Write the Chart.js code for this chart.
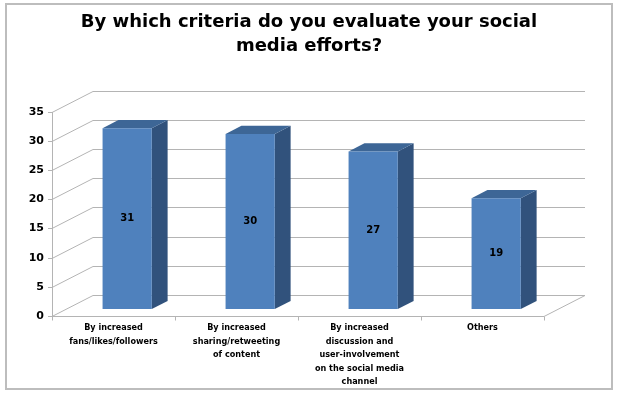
<!DOCTYPE html>
<html>
<head>
<meta charset="utf-8">
<script src="https://cdn.jsdelivr.net/npm/chart.js@4"></script>
<style>
  html, body { margin: 0; padding: 0; background: #fff; }
  #wrap { position: relative; width: 618px; height: 393px; }
</style>
</head>
<body>
<div id="wrap"><canvas id="chart" width="618" height="393"></canvas></div>
<script>
const categories = [
  ["By increased", "fans/likes/followers"],
  ["By increased", "sharing/retweeting", "of content"],
  ["By increased", "discussion and", "user-involvement", "on the social media", "channel"],
  ["Others"],
];
const responses = [31, 30, 27, 19];
const yTicks = [0, 5, 10, 15, 20, 25, 30, 35];
const titleLines = ["By which criteria do you evaluate your social", "media efforts?"];

// depth of the 3D box (back wall offset) and of the bars
const WALL_DX = 41, WALL_DY = -21;
const BAR_FRONT = 1 / 3, BAR_BACK = 0.72;

const GRID = "#b4b4b4";

const box3d = {
  id: "box3d",
  beforeDraw(chart) {
    const { ctx, chartArea: a } = chart;
    const y = chart.scales.y;
    ctx.save();
    // outer border
    ctx.strokeStyle = "#bdbdbd";
    ctx.lineWidth = 2;
    ctx.strokeRect(6, 4, 606, 385);
    // back wall gridlines + left wall diagonals
    ctx.lineWidth = 1;
    ctx.strokeStyle = GRID;
    yTicks.forEach((v) => {
      const py = Math.round(y.getPixelForValue(v)) + 0.5;
      ctx.beginPath();
      ctx.moveTo(a.left, py);
      ctx.lineTo(a.left + WALL_DX, py + WALL_DY);
      ctx.lineTo(a.right + WALL_DX, py + WALL_DY);
      ctx.stroke();
      ctx.beginPath();
      ctx.moveTo(a.left - 4, py);
      ctx.lineTo(a.left, py);
      ctx.stroke();
    });
    // left axis
    const top = Math.round(y.getPixelForValue(35));
    ctx.beginPath();
    ctx.moveTo(a.left + 0.5, top);
    ctx.lineTo(a.left + 0.5, a.bottom);
    ctx.stroke();
    // floor front + right edge
    const fy = a.bottom + 0.5;
    ctx.beginPath();
    ctx.moveTo(a.left, fy);
    ctx.lineTo(a.right, fy);
    ctx.lineTo(a.right + WALL_DX, fy + WALL_DY);
    ctx.stroke();
    // x ticks
    const step = (a.right - a.left) / categories.length;
    for (let i = 0; i <= categories.length; i++) {
      const px = Math.round(a.left + i * step) + 0.5;
      ctx.beginPath();
      ctx.moveTo(px, fy);
      ctx.lineTo(px, fy + 4);
      ctx.stroke();
    }
    ctx.restore();
  },
  beforeDatasetsDraw(chart) {
    const ctx = chart.ctx;
    ctx.save();
    chart.getDatasetMeta(0).data.forEach((bar) => {
      const w = bar.width;
      const x0 = bar.x - w / 2 + WALL_DX * BAR_FRONT;
      const x1 = bar.x + w / 2 + WALL_DX * BAR_FRONT;
      const yt = bar.y + WALL_DY * BAR_FRONT;
      const yb = bar.base + WALL_DY * BAR_FRONT;
      const ddx = WALL_DX * (BAR_BACK - BAR_FRONT);
      const ddy = WALL_DY * (BAR_BACK - BAR_FRONT);
      // side
      ctx.fillStyle = "#31527c";
      ctx.beginPath();
      ctx.moveTo(x1, yt);
      ctx.lineTo(x1 + ddx, yt + ddy);
      ctx.lineTo(x1 + ddx, yb + ddy);
      ctx.lineTo(x1, yb);
      ctx.closePath();
      ctx.fill();
      // top
      ctx.fillStyle = "#3d6696";
      ctx.beginPath();
      ctx.moveTo(x0, yt);
      ctx.lineTo(x0 + ddx, yt + ddy);
      ctx.lineTo(x1 + ddx, yt + ddy);
      ctx.lineTo(x1, yt);
      ctx.closePath();
      ctx.fill();
    });
    ctx.translate(WALL_DX * BAR_FRONT, WALL_DY * BAR_FRONT);
  },
  afterDatasetsDraw(chart) {
    const ctx = chart.ctx;
    ctx.restore();
    ctx.save();
    ctx.fillStyle = "#000";
    ctx.font = "bold 10px 'DejaVu Sans'";
    ctx.textAlign = "center";
    ctx.textBaseline = "middle";
    chart.getDatasetMeta(0).data.forEach((bar, i) => {
      const cx = bar.x + WALL_DX * BAR_FRONT;
      const cy = (bar.y + bar.base) / 2 + WALL_DY * BAR_FRONT;
      ctx.fillText(String(responses[i]), cx, cy);
    });
    ctx.restore();
  },
};

new Chart(document.getElementById("chart"), {
  type: "bar",
  data: {
    labels: categories,
    datasets: [{
      data: responses,
      backgroundColor: "#4f81bd",
      borderWidth: 0,
      categoryPercentage: 0.8,
      barPercentage: 0.5,
    }],
  },
  options: {
    responsive: false,
    animation: false,
    layout: { padding: { left: 5, right: 5, top: 0, bottom: 7 } },
    plugins: {
      legend: { display: false },
      tooltip: { enabled: false },
      title: {
        display: true,
        text: titleLines,
        color: "#000",
        font: { family: "'DejaVu Sans'", size: 18, weight: "bold", lineHeight: 1.3 },
        padding: { top: 11, bottom: 54 },
        fullSize: true,
      },
    },
    scales: {
      x: {
        grid: { display: false, drawTicks: false },
        border: { display: false },
        ticks: {
          color: "#000",
          font: { family: "'DejaVu Sans Condensed', 'DejaVu Sans'", size: 9, weight: "bold", lineHeight: 1.5 },
          maxRotation: 0,
          autoSkip: false,
          padding: 5,
        },
        afterFit: (s) => { s.height = 70; },
      },
      y: {
        min: 0,
        max: 35,
        grid: { display: false, drawTicks: false },
        border: { display: false },
        ticks: {
          stepSize: 5,
          color: "#000",
          font: { family: "'DejaVu Sans'", size: 11, weight: "bold" },
          padding: 8,
        },
        afterFit: (s) => { s.width = 47; },
      },
      // empty right-hand space that holds the 3D depth of the box
      depth: {
        position: "right",
        display: true,
        grid: { display: false, drawTicks: false },
        border: { display: false },
        ticks: { display: false },
        afterFit: (s) => { s.width = 69; },
      },
    },
  },
  plugins: [box3d],
});
</script>
</body>
</html>
